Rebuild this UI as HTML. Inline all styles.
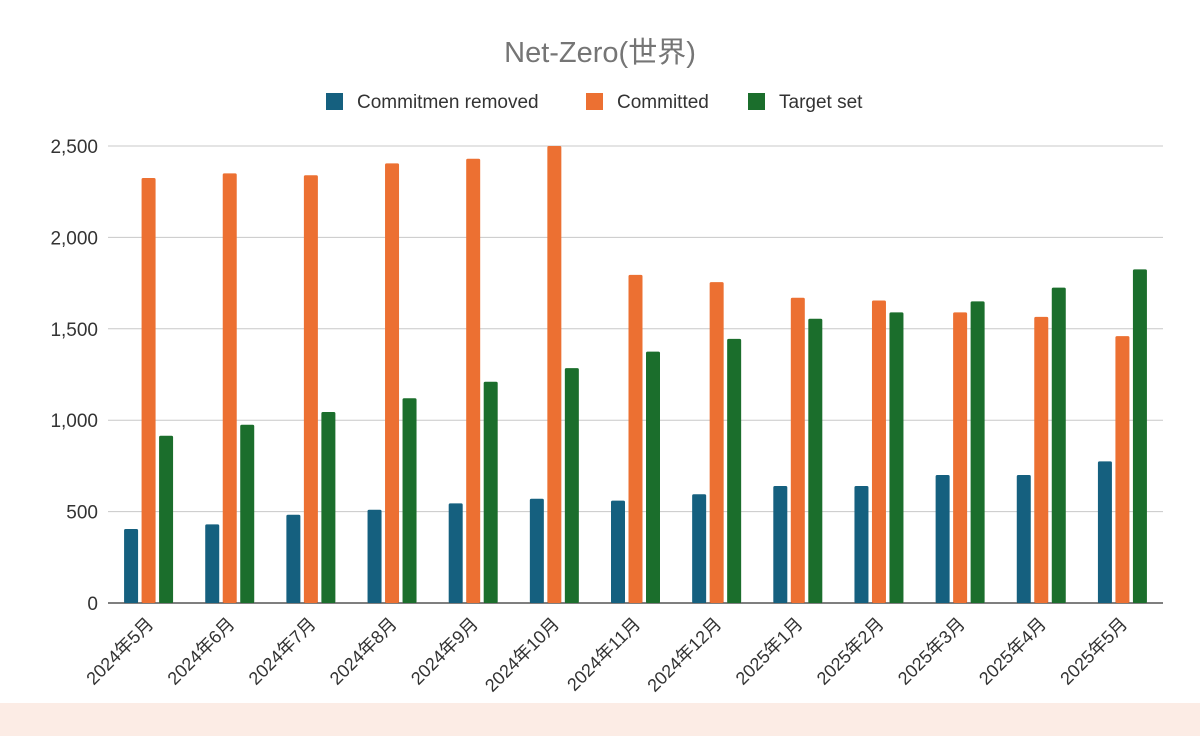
<!DOCTYPE html>
<html><head><meta charset="utf-8"><style>
body{margin:0;background:#fff;}
svg text{font-family:"Liberation Sans","Noto Sans CJK JP",sans-serif;}
</style></head><body>
<svg id="chart" width="1200" height="736" xmlns="http://www.w3.org/2000/svg">
<rect x="0" y="703" width="1200" height="33" fill="#fcece5"/>
<text x="600" y="62" text-anchor="middle" font-size="29" fill="#757575">Net-Zero(世界)</text>
<g>
<rect x="326" y="93" width="17" height="17" fill="#15607f"/>
<text x="357" y="108" font-size="19" fill="#333">Commitmen removed</text>
<rect x="586" y="93" width="17" height="17" fill="#ec7032"/>
<text x="617" y="108" font-size="19" fill="#333">Committed</text>
<rect x="748" y="93" width="17" height="17" fill="#1b6e2c"/>
<text x="779" y="108" font-size="19" fill="#333">Target set</text>
</g>
<g id="grid"></g><g id="bars"></g><g id="xl"></g>
</svg>
<script>
const categories=["2024年5月","2024年6月","2024年7月","2024年8月","2024年9月","2024年10月","2024年11月","2024年12月","2025年1月","2025年2月","2025年3月","2025年4月","2025年5月"];
const removed=[405,430,483,510,545,570,560,595,640,640,700,700,775];
const committed=[2325,2350,2340,2405,2430,2500,1795,1755,1670,1655,1590,1565,1460];
const targetSet=[915,975,1045,1120,1210,1285,1375,1445,1555,1590,1650,1725,1825];
const yTicks=[0,500,1000,1500,2000,2500];
const yTickLabels=["0","500","1,000","1,500","2,000","2,500"];
const NS="http://www.w3.org/2000/svg";
const L=108,R=1163,Y0=603,Ytop=146,MAX=2500;
const y=v=>Y0-(v/MAX)*(Y0-Ytop);
const band=(R-L)/categories.length;
const xc=i=>L+band*(i+0.5);
function mk(t,a,p){const e=document.createElementNS(NS,t);for(const k in a)e.setAttribute(k,a[k]);p.appendChild(e);return e;}
const g=document.getElementById('grid');
yTicks.forEach((v,i)=>{
 const ln=mk('line',{x1:L,x2:R,y1:y(v),y2:y(v),stroke:v===0?'#333':'#c8c8c8','stroke-width':v===0?1.3:1},g);
 
 
 const t=mk('text',{x:98,y:y(v)+7,'text-anchor':'end','font-size':19,fill:'#333'},g);
 t.textContent=yTickLabels[i];
 
 
});
const b=document.getElementById('bars');
const series=[[removed,'#15607f','removed',-17.5],[committed,'#ec7032','committed',0],[targetSet,'#1b6e2c','target-set',17.5]];
const bw=14;
categories.forEach((c,i)=>{
 series.forEach(([arr,col,nm,off])=>{
  const r=mk('rect',{x:xc(i)+off-bw/2,y:y(arr[i]),width:bw,height:Y0-y(arr[i]),fill:col,rx:1.5},b);
  
  
 });
 const t=mk('text',{x:0,y:0,'text-anchor':'end','font-size':18,fill:'#333',transform:`translate(${xc(i)+6},${Y0+22}) rotate(-45)`},document.getElementById('xl'));
 t.textContent=c;
 
 
});
</script>
</body></html>
